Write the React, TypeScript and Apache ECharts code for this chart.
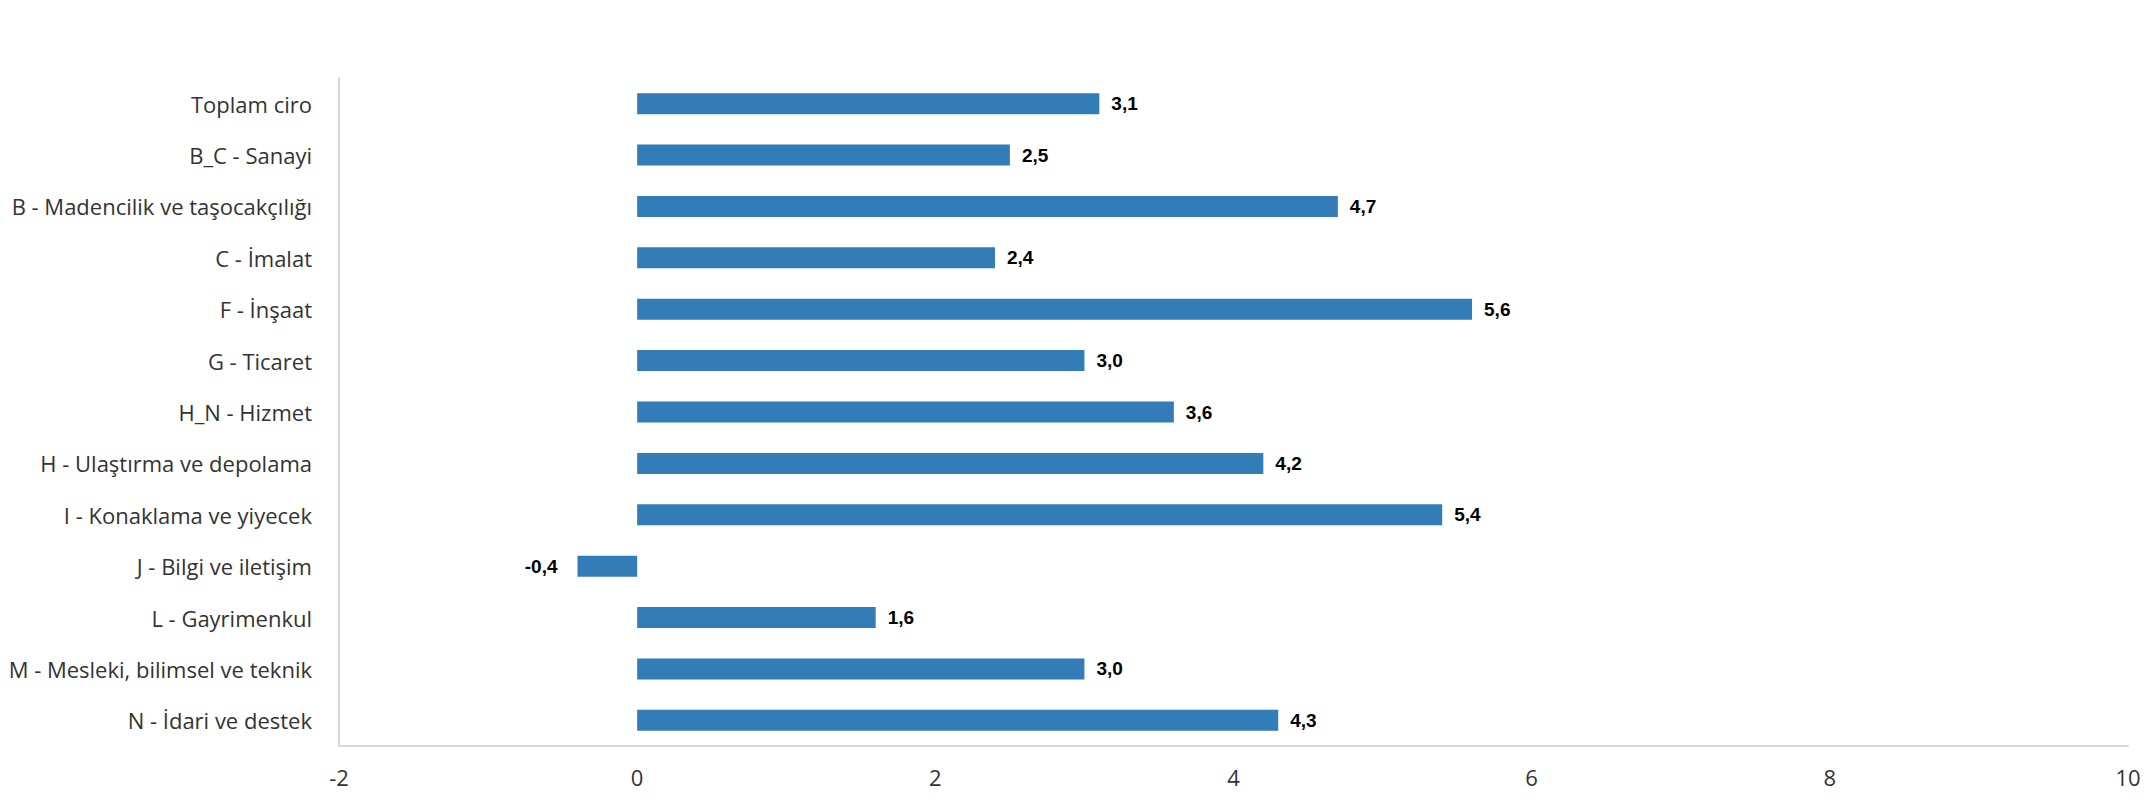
import React, { useEffect, useRef } from "react";
import * as echarts from "echarts";

const categories: string[] = [
  "Toplam ciro",
  "B_C - Sanayi",
  "B - Madencilik ve taşocakçılığı",
  "C - İmalat",
  "F - İnşaat",
  "G - Ticaret",
  "H_N - Hizmet",
  "H - Ulaştırma ve depolama",
  "I - Konaklama ve yiyecek",
  "J - Bilgi ve iletişim",
  "L - Gayrimenkul",
  "M - Mesleki, bilimsel ve teknik",
  "N - İdari ve destek",
];

const values: number[] = [3.1, 2.5, 4.7, 2.4, 5.6, 3.0, 3.6, 4.2, 5.4, -0.4, 1.6, 3.0, 4.3];

const xMin = -2;
const xMax = 10;
const xInterval = 2;

export default function App() {
  const ref = useRef<HTMLDivElement>(null);

  useEffect(() => {
    document.body.style.margin = "0";
    if (!ref.current) return;
    const chart = echarts.init(ref.current, undefined, { renderer: "svg" });
    const fmt = (v: number) => v.toFixed(1).replace(".", ",");
    chart.setOption({
      animation: false,
      backgroundColor: "#ffffff",
      grid: { left: 339, right: 17, top: 78, bottom: 54, containLabel: false },
      xAxis: {
        type: "value",
        min: xMin,
        max: xMax,
        interval: xInterval,
        axisLine: { show: true, lineStyle: { color: "#d9d9d9", width: 2 } },
        axisTick: { show: false },
        splitLine: { show: false },
        axisLabel: {
          color: "#333333",
          fontFamily: "Open Sans",
          fontSize: 22,
          margin: 20,
        },
      },
      yAxis: {
        type: "category",
        inverse: true,
        data: categories,
        axisLine: { show: true, onZero: false, lineStyle: { color: "#d9d9d9", width: 2 } },
        axisTick: { show: false },
        splitLine: { show: false },
        axisLabel: {
          color: "#333333",
          fontFamily: "Open Sans",
          fontSize: 22,
          margin: 27,
          padding: [0, 0, 2, 0],
        },
      },
      series: [
        {
          type: "bar",
          barWidth: 21,
          data: values.map((v) => ({
            value: v,
            label:
              v < 0
                ? { position: "left", distance: 20 }
                : { position: "right", distance: 12 },
          })),
          itemStyle: { color: "#327cb8" },
          label: {
            show: true,
            color: "#000000",
            fontFamily: "Liberation Sans, Arial",
            fontWeight: "bold",
            fontSize: 19,
            formatter: (p: any) => fmt(p.value),
          },
        },
      ],
    });
    return () => chart.dispose();
  }, []);

  return (
    <div
      ref={ref}
      style={{ position: "fixed", left: 0, top: 0, width: 2145, height: 800 }}
    />
  );
}
